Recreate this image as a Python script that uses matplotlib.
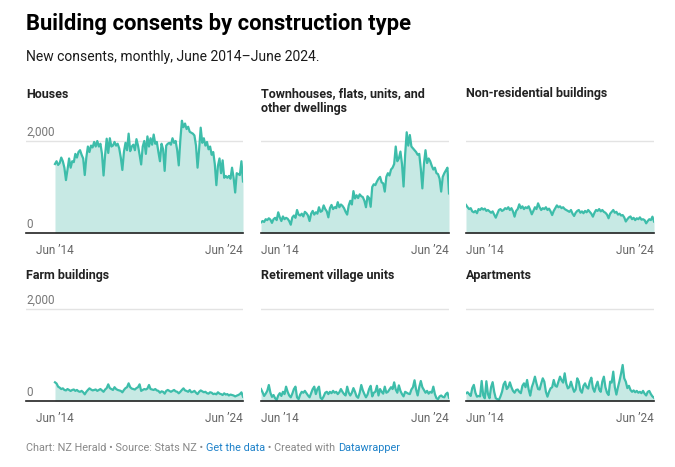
import numpy as np
import matplotlib
matplotlib.use('Agg')
import matplotlib.pyplot as plt

plt.rcParams['font.family'] = ['Roboto', 'DejaVu Sans']

# monthly consents, Jun 2014 .. Jun 2024 (121 months)
months = np.arange(121)

houses = [1500, 1560, 1480, 1520, 1640, 1560, 1420,
          1150, 1380, 1620, 1420, 1560, 1540, 1720, 1640, 1760, 1800, 1700, 1620,
          1260, 1640, 1880, 1760, 1900, 1860, 1980, 1880, 2000, 1880, 1940, 1720,
          1250, 1700, 2050, 1740, 2060, 1880, 1900, 1980, 1900, 1940, 1840, 1640,
          1370, 1760, 1960, 1800, 2160, 1780, 1880, 1920, 1800, 2040, 1900, 1700,
          1490, 1880, 2000, 1720, 2100, 1880, 2060, 1920, 2140, 1940, 1980, 1760,
          1560, 1940, 1820, 1350, 1900, 1940, 1960, 1920, 2060, 1960, 2000, 1800,
          1470, 2020, 2440, 2300, 2380, 2260, 2310, 2200, 2180, 2160, 2120, 1900,
          1420, 1820, 2290, 1960, 2060, 1900, 1980, 1820, 1880, 1700, 1760, 1500,
          1040, 1460, 1620, 1300, 1580, 1200, 1240, 1200, 1240, 1180, 1420, 1200,
          880, 1300, 1280, 1260, 1560, 1120]

townhouses = [230, 260, 240, 300, 280, 320, 290,
              220, 300, 330, 280, 450, 340, 260, 360, 300, 330, 310, 260,
              180, 340, 380, 330, 500, 400, 380, 420, 360, 460, 430, 380,
              260, 420, 480, 400, 450, 420, 560, 460, 480, 600, 520, 470,
              340, 540, 610, 520, 560, 540, 670, 560, 620, 590, 540, 460,
              400, 600, 700, 620, 910, 750, 820, 760, 840, 800, 780, 700,
              560, 800, 760, 570, 1000, 1060, 1040, 1120, 1180, 1220, 1100, 1080,
              900, 1220, 1300, 1250, 1380, 1420, 1500, 1880, 1560, 1620, 1770, 1500,
              1010, 1700, 2190, 1900, 2130, 1880, 1840, 1800, 1760, 1700, 1720, 1400,
              970, 1500, 1800, 1520, 1620, 1560, 1460, 1380, 1420, 1300, 1280, 1180,
              900, 1220, 1300, 1360, 1420, 860]

non_residential = [610, 560, 520, 540, 470, 450, 480, 430, 520, 500, 540, 510,
                   530, 480, 500, 470, 440, 470, 400, 333, 420, 500, 520, 480,
                   500, 540, 520, 560, 500, 540, 470, 355, 480, 520, 623, 540,
                   580, 520, 560, 540, 580, 500, 406, 480, 560, 520, 645, 560,
                   500, 540, 520, 560, 500, 530, 470, 390, 480, 540, 600, 560,
                   580, 540, 560, 520, 500, 480, 460, 500, 420, 370, 440, 480,
                   500, 440, 470, 430, 480, 450, 500, 460, 420, 355, 440, 500,
                   480, 520, 470, 500, 460, 440, 400, 320, 420, 460, 500, 440,
                   460, 400, 420, 380, 390, 340, 250, 300, 340, 360, 300, 330,
                   280, 320, 300, 340, 290, 300, 280, 210, 260, 300, 280, 355,
                   250]

farm = [406, 380, 312, 290, 260, 275, 240, 230, 260, 240, 218, 240,
        250, 220, 240, 210, 200, 220, 190, 145, 200, 240, 275, 250,
        230, 240, 250, 220, 240, 260, 230, 200, 250, 280, 362, 280,
        260, 240, 300, 260, 240, 230, 220, 188, 240, 280, 300, 384,
        300, 270, 260, 250, 280, 300, 362, 220, 240, 260, 250, 270,
        348, 260, 250, 240, 260, 230, 220, 180, 210, 200, 160, 220,
        240, 220, 200, 220, 240, 210, 200, 167, 200, 240, 275, 230,
        218, 200, 240, 190, 200, 220, 180, 150, 200, 230, 210, 190,
        200, 170, 160, 190, 180, 150, 160, 145, 190, 160, 150, 130,
        167, 140, 150, 120, 140, 130, 120, 100, 116, 130, 150, 188,
        94]

retirement = [260, 190, 110, 160, 220, 348, 180, 90, 130, 60, 22, 120,
              170, 110, 200, 150, 312, 200, 120, 80, 160, 260, 312, 80,
              40, 140, 200, 180, 220, 170, 120, 80, 170, 260, 312, 150,
              260, 312, 70, 40, 100, 180, 200, 150, 200, 170, 220, 180,
              200, 150, 190, 260, 200, 150, 120, 312, 180, 120, 180, 280,
              200, 100, 70, 180, 348, 230, 150, 80, 140, 260, 330, 100,
              180, 200, 330, 120, 260, 200, 160, 312, 180, 200, 250, 300,
              260, 406, 250, 180, 340, 220, 150, 100, 200, 180, 160, 150,
              250, 300, 450, 250, 120, 300, 435, 300, 240, 180, 220, 160,
              200, 180, 312, 150, 60, 40, 100, 120, 90, 80, 150, 180,
              72]

apartments = [167, 190, 150, 110, 280, 350, 180, 94, 110, 100, 435, 120,
              58, 430, 150, 60, 300, 410, 200, 60, 40, 22, 100, 200,
              360, 420, 260, 300, 406, 300, 220, 180, 240, 250, 200, 170,
              330, 384, 300, 457, 250, 116, 300, 400, 529, 380, 260, 250,
              380, 493, 420, 200, 94, 200, 275, 300, 457, 330, 310, 420,
              529, 450, 400, 602, 380, 275, 300, 420, 300, 200, 250, 493,
              420, 230, 180, 330, 384, 300, 270, 420, 507, 280, 200, 330,
              420, 250, 200, 420, 529, 300, 180, 130, 420, 400, 638, 300,
              140, 300, 440, 600, 783, 493, 420, 280, 330, 240, 200, 230,
              190, 220, 180, 200, 170, 220, 160, 120, 200, 218, 150, 100,
              70]

titles = ["Houses", "Townhouses, flats, units, and\nother dwellings",
          "Non-residential buildings", "Farm buildings",
          "Retirement village units", "Apartments"]
series = [houses, townhouses, non_residential, farm, retirement, apartments]

W, H = 675, 467
line_c = '#3dbdaa'
fill_c = '#c7e9e4'

fig = plt.figure(figsize=(W / 100, H / 100), dpi=100)


def ftext(x, y, s, **kw):
    return fig.text(x / W, 1 - y / H, s, **kw)


ftext(26, 24, "Building consents by construction type", fontsize=15.8,
      fontweight='bold', va='center', color='#000000')
ftext(26, 57, "New consents, monthly, June 2014\u2013June 2024.", fontsize=10,
      va='center', color='#1a1a1a')

cols = [(26, 243, -18.5), (261, 449, 0), (466, 654, 0)]
baselines = [233, 401]
title_y = [94, 276]

for i, (name, vals) in enumerate(zip(titles, series)):
    r, c = divmod(i, 3)
    x0, x1, xmin = cols[c]
    yb = baselines[r]
    ytop = yb - 2500 * 92 / 2000
    ax = fig.add_axes([x0 / W, 1 - yb / H, (x1 - x0) / W, (yb - ytop) / H])
    ax.set_xlim(xmin, 120)
    ax.set_ylim(0, 2500)
    ax.axis('off')
    ax.axhline(2000, color='#e3e3e3', lw=1, zorder=0)
    ax.fill_between(months, vals, color=fill_c, lw=0, zorder=1)
    ax.plot(months, vals, color=line_c, lw=1.6, zorder=2, solid_joinstyle='round')
    ax.axhline(0, color='#222222', lw=1.2, zorder=5, clip_on=False)

    if '\n' in name:
        ftext(x0, title_y[r] - 7, name, fontsize=9, fontweight='bold', va='top',
              color='#222222', linespacing=1.2)
    else:
        ftext(x0, title_y[r], name, fontsize=9, fontweight='bold', va='center',
              color='#222222')

    if c == 0:
        ax.annotate("2,000", (xmin, 2000), xytext=(0, 1.5), textcoords='offset points',
                    fontsize=8.5, color='#777777', va='bottom', ha='left')
        ax.annotate("0", (xmin, 0), xytext=(0, 1.5), textcoords='offset points',
                    fontsize=8.5, color='#777777', va='bottom', ha='left')
    ax.annotate("Jun \u201914", (0, 0), xytext=(0, -8), textcoords='offset points',
                fontsize=8.5, color='#666666', va='top', ha='center' if c == 0 else 'left',
                annotation_clip=False)
    ax.annotate("Jun \u201924", (120, 0), xytext=(0, -8), textcoords='offset points',
                fontsize=8.5, color='#666666', va='top', ha='right', annotation_clip=False)

# footer with coloured link words
pieces = [("Chart: NZ Herald \u2022 Source: Stats NZ \u2022 ", '#888888'),
          ("Get the data", '#1d81c9'),
          (" \u2022 Created with ", '#888888'),
          ("Datawrapper", '#1d81c9')]
renderer = fig.canvas.get_renderer()
x = 26
for s, col in pieces:
    t = ftext(x, 448, s, fontsize=7.8, va='center', color=col)
    x += t.get_window_extent(renderer).width

fig.savefig('out.png', dpi=100)
